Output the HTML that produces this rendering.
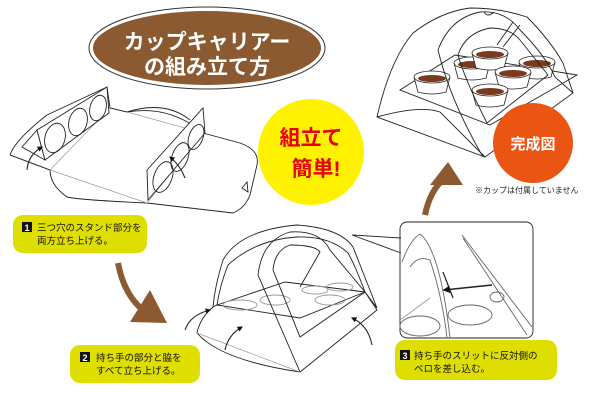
<!DOCTYPE html>
<html><head><meta charset="utf-8"><style>
body{margin:0;background:#fff;width:601px;height:400px;overflow:hidden;font-family:"Liberation Sans","Noto Sans CJK JP",sans-serif}
</style></head><body>
<svg width="601" height="400" viewBox="0 0 601 400" xmlns="http://www.w3.org/2000/svg" font-family="Liberation Sans, Noto Sans CJK JP, sans-serif">
<defs>
<g id="cup"><path d="M-18 0 L-14 15 Q0 19 14 15 L18 0" fill="#fff" stroke="#222" stroke-width="0.8"/><ellipse cx="0" cy="0" rx="18" ry="6" fill="#fff" stroke="#222" stroke-width="0.8"/><ellipse cx="0" cy="1.5" rx="14" ry="3.5" fill="#7a3a1e"/></g>
<marker id="ah" viewBox="0 0 10 10" refX="8" refY="5" markerWidth="5" markerHeight="5" orient="auto"><path d="M0 0 L10 5 L0 10 Z" fill="#111"/></marker>
</defs>
<g fill="none" stroke="#222" stroke-width="0.9">
<!-- step1 -->
<path d="M10 155 Q15 140 47 115 L107 87 L110 108 L127 112 Q170 105 203 133 L240 143 Q260 150 257 165 L250 195 Q245 208 233 213 L147 203 Q80 200 67 197 Q50 185 50 170 Z" fill="#fff"/>
<path d="M50 170 L10 155" />
<path d="M50 170 L147 203 M110 108 L50 170 M127 112 L203 133 M147 203 L203 133" stroke="#999" stroke-width="0.7"/>
<path d="M127 112 Q165 100 190 120" />
<path d="M22 147 L37 130 L45 160 Z" fill="#fff"/>
<path d="M37 130 L107 87 L109 113 L45 160 Z" fill="#fff"/>
<ellipse cx="55" cy="138" rx="10" ry="15" transform="rotate(15 55 138)"/><ellipse cx="78" cy="122" rx="9" ry="14" transform="rotate(15 78 122)"/><ellipse cx="98" cy="108" rx="8" ry="13" transform="rotate(15 98 108)"/>
<path d="M147 170 L203 108 L205 133 L148 200 Z" fill="#fff"/>
<ellipse cx="163" cy="177" rx="9" ry="16" transform="rotate(20 163 177)"/><ellipse cx="180" cy="157" rx="8" ry="15" transform="rotate(20 180 157)"/><ellipse cx="196" cy="137" rx="7" ry="13" transform="rotate(20 196 137)"/>
<path d="M242 188 L247 182 L248 192 Z"/>
<path d="M27 170 Q28 155 42 147" stroke-width="1.1" marker-end="url(#ah)"/><path d="M185 178 Q180 165 170 157" stroke-width="1.1" marker-end="url(#ah)"/>
<!-- step2 -->
<path d="M197 333 Q200 318 213 307 L217 305 L365 292 L377 310 L300 372 Q220 360 197 333 Z" fill="#fff"/>
<path d="M197 333 L300 372" stroke="#999" stroke-width="0.7"/>
<path d="M213 307 Q215 285 223 260 Q240 230 297 225 Q340 228 353 247 L377 308 L365 292 Q355 265 348 253 Q330 236 297 237 Q255 240 228 265 Q220 285 217 305"/>
<path d="M217 305 L285 282 L365 292 L300 318 Z" fill="#fff"/>
<ellipse cx="240" cy="305" rx="17" ry="5" stroke="#999"/><ellipse cx="275" cy="300" rx="15" ry="5" stroke="#999"/><ellipse cx="330" cy="300" rx="15" ry="5" stroke="#999"/><ellipse cx="315" cy="290" rx="13" ry="4" stroke="#999"/><ellipse cx="340" cy="287" rx="13" ry="4" stroke="#999"/>
<path d="M300 372 L258 275 Q262 240 290 232 Q320 230 330 250 L365 292 L300 337 L273 270 Q275 250 290 245 Q315 245 320 252 L300 287"/>
<path d="M185 330 Q190 315 210 310" stroke-width="1.1" marker-end="url(#ah)"/><path d="M225 350 Q228 335 242 327" stroke-width="1.1" marker-end="url(#ah)"/><path d="M372 345 Q368 325 352 318" stroke-width="1.1" marker-end="url(#ah)"/>
<!-- callout -->
<rect x="400" y="222" width="133" height="116" rx="7" fill="#fff"/>
<path d="M352 235 L401 238 M352 235 L401 253" />
<path d="M402 262 Q410 240 420 234 Q440 250 450 338" stroke="#666"/>
<path d="M410 267 Q418 255 430 260 Q443 300 447 338" stroke="#666"/>
<path d="M462 235 L532 327 M463 238 L527 335" stroke="#666"/>
<path d="M400 320 L430 298" stroke="#999"/>
<ellipse cx="420" cy="326" rx="20" ry="10" stroke="#666"/><ellipse cx="470" cy="315" rx="22" ry="10" stroke="#666"/>
<path d="M443 272 L453 298" stroke-width="1.2"/>
<path d="M492 285 L444 290" stroke-width="1.5" marker-end="url(#ah)"/>
<ellipse cx="497" cy="297" rx="7" ry="5" stroke="#666"/>
<!-- final -->
<path d="M377 117 Q390 60 413 33 Q440 12 470 8 Q500 8 527 17 Q550 40 563 63 L573 93 L485 157 Z" fill="#fff"/>
<path d="M377 117 Q420 105 440 112 L485 157" />
<path d="M400 90 L455 55 L577 75 L490 125 Z" />
</g>
<use href="#cup" x="432" y="77"/><use href="#cup" x="472" y="63"/><use href="#cup" x="490" y="53"/><use href="#cup" x="537" y="62"/><use href="#cup" x="513" y="72"/><use href="#cup" x="490" y="90"/>
<g fill="none" stroke="#222" stroke-width="0.9">
<path d="M483 157 Q450 100 438 50 Q450 18 480 12 Q505 10 520 30 Q545 55 555 77 L573 93 M487 123 Q465 80 458 55 Q465 33 490 28 Q510 28 520 40 L548 75 L487 123"/>
<path d="M513 22 L497 45 M520 25 L503 47"/>
<path d="M484 12 Q488 18 494 12" />
</g>
<!-- title -->
<ellipse cx="207" cy="48" rx="118" ry="41" fill="#fff" stroke="#333"/>
<ellipse cx="207" cy="48" rx="114" ry="37" fill="#8b5a30"/>
<text x="207" y="49" fill="#fff" font-size="21" font-weight="bold" text-anchor="middle">カップキャリアー</text>
<text x="207" y="74" fill="#fff" font-size="21" font-weight="bold" text-anchor="middle">の組み立て方</text>
<!-- yellow badge -->
<circle cx="311" cy="152" r="53" fill="#fff200"/>
<text x="311" y="145" fill="#e60012" font-size="21" font-weight="bold" text-anchor="middle">組立て</text>
<text x="316" y="176" fill="#e60012" font-size="21" font-weight="bold" text-anchor="middle">簡単!</text>
<!-- orange -->
<circle cx="533" cy="143" r="40" fill="#ea5514"/>
<text x="533" y="149" fill="#fff" font-size="15" font-weight="bold" text-anchor="middle">完成図</text>
<text x="475" y="193" fill="#222" font-size="8">※カップは付属していません</text>
<!-- arrows -->
<path d="M118 263 Q125 300 150 315" fill="none" stroke="#8b5a30" stroke-width="6"/>
<path d="M130 322 L167 323 L150 290 Z" fill="#8b5a30"/>
<path d="M425 215 Q430 190 445 178" fill="none" stroke="#8b5a30" stroke-width="6"/>
<path d="M430 185 L448 162 L463 185 Z" fill="#8b5a30"/>
<!-- labels -->
<rect x="13" y="215" width="134" height="38" rx="10" fill="#dede00"/>
<rect x="22" y="222" width="10" height="10" fill="#111"/><text x="27" y="231" fill="#fff" font-size="9" font-weight="bold" text-anchor="middle">1</text>
<text x="37" y="231" font-size="9.5" fill="#111">三つ穴のスタンド部分を</text>
<text x="37" y="244" font-size="9.5" fill="#111">両方立ち上げる。</text>
<rect x="70" y="345" width="130" height="38" rx="10" fill="#dede00"/>
<rect x="80" y="352" width="10" height="10" fill="#111"/><text x="85" y="361" fill="#fff" font-size="9" font-weight="bold" text-anchor="middle">2</text>
<text x="96" y="361" font-size="9.5" fill="#111">持ち手の部分と脇を</text>
<text x="96" y="374" font-size="9.5" fill="#111">すべて立ち上げる。</text>
<rect x="395" y="340" width="162" height="40" rx="10" fill="#dede00"/>
<rect x="400" y="350" width="10" height="10" fill="#111"/><text x="405" y="359" fill="#fff" font-size="9" font-weight="bold" text-anchor="middle">3</text>
<text x="414" y="359" font-size="9.5" fill="#111">持ち手のスリットに反対側の</text>
<text x="414" y="372" font-size="9.5" fill="#111">ベロを差し込む。</text>
</svg>
</body></html>
